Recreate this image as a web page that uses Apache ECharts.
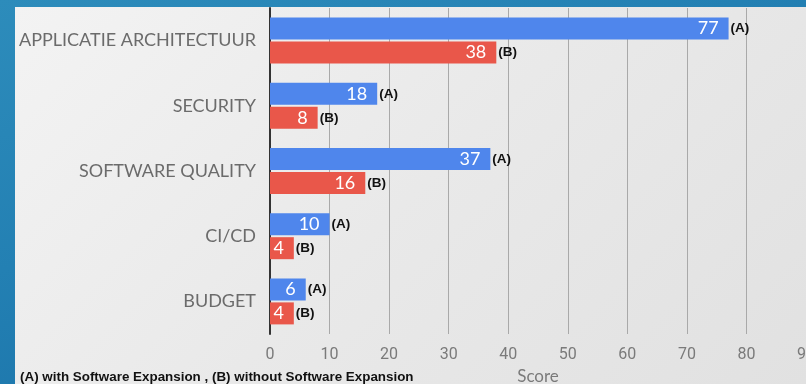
<!DOCTYPE html>
<html>
<head>
<meta charset="utf-8">
<script src="https://cdn.jsdelivr.net/npm/echarts@6/dist/echarts.min.js"></script>
<style>
  html, body { margin: 0; padding: 0; }
  body {
    width: 806px; height: 384px; overflow: hidden;
    background: linear-gradient(160deg, #2d8cbb 0%, #2380b3 40%, #156aa3 100%);
    position: relative;
  }
  #panel {
    position: absolute; left: 15px; top: 7px; width: 791px; height: 377px;
    background: linear-gradient(135deg, #f3f3f3 0%, #e9e9e9 50%, #e1e1e1 100%);
  }
  #chart { width: 791px; height: 377px; }
</style>
</head>
<body>
<div id="panel"><div id="chart"></div></div>
<script>
/* ===== data ===== */
const categories = ['APPLICATIE ARCHITECTUUR', 'SECURITY', 'SOFTWARE QUALITY', 'CI/CD', 'BUDGET'];
const withExpansion = [77, 18, 37, 10, 6];     // (A)
const withoutExpansion = [38, 8, 16, 4, 4];    // (B)
const seriesTags = ['(A)', '(B)'];
const axisTicks = [0, 10, 20, 30, 40, 50, 60, 70, 80, 90];
const axisTitle = 'Score';
const footnote = '(A) with Software Expansion , (B) without Software Expansion';

const theme = {
  blue: '#4f86ec',
  red: '#e9574a',
  label: '#6b6b6b',
  tick: '#7a7a7a',
  grid: '#a9a9a9',
  axis: '#333333',
};

// value printed inside the bar end
function valueLabel() {
  return {
    show: true,
    position: 'insideRight',
    distance: 10,
    color: '#ffffff',
    fontSize: 18,
    fontFamily: 'Lato',
  };
}

// zero-length bar stacked on the end of a bar, carries the (A)/(B) tag
function tagSeries(stack, values, tag) {
  return {
    name: tag,
    type: 'bar',
    stack: stack,
    data: values.map(() => 0),
    barWidth: 22,
    silent: true,
    itemStyle: { color: 'transparent' },
    label: {
      show: true,
      position: 'right',
      distance: 2,
      formatter: tag,
      color: '#111111',
      fontSize: 13.5,
      fontWeight: 'bold',
      fontFamily: 'Liberation Sans',
    },
  };
}

const chart = echarts.init(document.getElementById('chart'));
chart.setOption({
  animation: false,
  grid: { left: 255, right: 0, top: 1, bottom: 50, outerBoundsMode: 'none' },
  xAxis: {
    type: 'value',
    min: axisTicks[0],
    max: axisTicks[axisTicks.length - 1],
    interval: 10,
    name: axisTitle,
    nameLocation: 'middle',
    nameGap: 34,
    nameTextStyle: { color: theme.tick, fontSize: 17, fontFamily: 'Lato', verticalAlign: 'top' },
    axisLine: { show: false },
    axisTick: { show: false },
    axisLabel: { color: theme.tick, fontSize: 16, fontFamily: 'Roboto', margin: 13 },
    splitLine: { show: true, lineStyle: { color: theme.grid, width: 1 } },
  },
  yAxis: {
    type: 'category',
    data: categories,
    inverse: true,
    axisLine: { show: true, lineStyle: { color: theme.axis, width: 2 } },
    axisTick: { show: false },
    axisLabel: { color: theme.label, fontSize: 18, fontFamily: 'Lato', margin: 14 },
  },
  graphic: [{
    type: 'text',
    left: 5,
    top: 364,
    style: { text: footnote, fill: '#111111', font: 'bold 13.4px "Liberation Sans"' },
  }],
  series: [
    {
      name: 'A',
      type: 'bar',
      stack: 'a',
      data: withExpansion,
      barWidth: 22,
      barGap: '9%',
      itemStyle: { color: theme.blue },
      label: valueLabel(),
    },
    {
      name: 'B',
      type: 'bar',
      stack: 'b',
      data: withoutExpansion,
      barWidth: 22,
      itemStyle: { color: theme.red },
      label: valueLabel(),
    },
    tagSeries('a', withExpansion, seriesTags[0]),
    tagSeries('b', withoutExpansion, seriesTags[1]),
  ],
});
</script>
</body>
</html>
